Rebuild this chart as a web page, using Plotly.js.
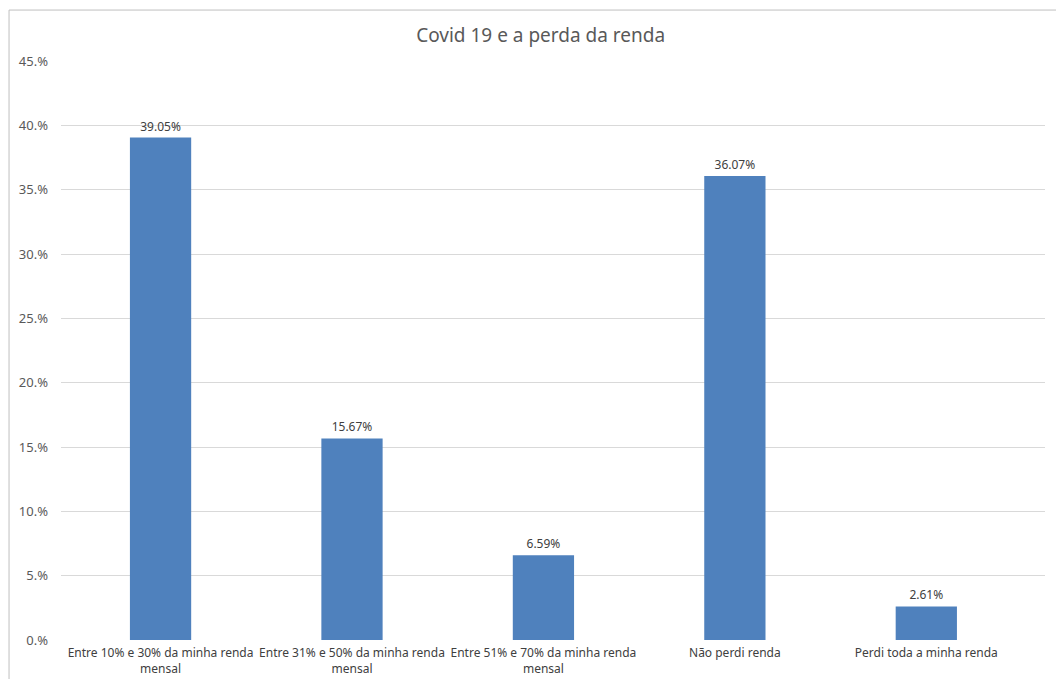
<!DOCTYPE html>
<html><head><meta charset="utf-8">
<script src="https://cdn.plot.ly/plotly-3.0.1.min.js"></script>
<style>html,body{margin:0;padding:0;background:#fff;}#chart{width:1056px;height:679px;}</style>
</head><body><div id="chart"></div>
<script>
const categories = ["Entre 10% e 30% da minha renda<br>mensal", "Entre 31% e 50% da minha renda<br>mensal", "Entre 51% e 70% da minha renda<br>mensal", "Não perdi renda", "Perdi toda a minha renda"];
const values = [39.05, 15.67, 6.59, 36.07, 2.61];
const valueLabels = ["39.05%", "15.67%", "6.59%", "36.07%", "2.61%"];
const yTickVals = [0, 5, 10, 15, 20, 25, 30, 35, 40, 45];
const yTickText = ["0.%", "5.%", "10.%", "15.%", "20.%", "25.%", "30.%", "35.%", "40.%", "45.%"];

const font = "Noto Sans, Open Sans, sans-serif";
const trace = {
  type: "bar",
  x: [0,1,2,3,4],
  y: values,
  text: valueLabels,
  textposition: "outside",
  textfont: {family: font, size: 12, color: "#404040"},
  cliponaxis: false,
  marker: {color: "#4F81BD"},
  width: 0.32,
  hoverinfo: "none"
};
const layout = {
  width: 1056, height: 679,
  margin: {l: 61, r: 11, t: 61, b: 39},
  paper_bgcolor: "#fff", plot_bgcolor: "#fff",
  title: {text: "Covid 19 e a perda da renda", x: 0.512, xanchor: "center", y: 0.948, yanchor: "middle",
          font: {family: font, size: 19, color: "#595959"}},
  showlegend: false,
  xaxis: {range: [-0.52, 4.62], tickvals: [0,1,2,3,4], ticktext: categories, showgrid: false, zeroline: false,
          showline: false, ticks: "", automargin: false, ticklabelstandoff: 4,
          tickfont: {family: font, size: 12, color: "#404040"}, fixedrange: true},
  yaxis: {range: [0, 45], tickvals: yTickVals, ticktext: yTickText, showgrid: true, gridcolor: "#d9d9d9", gridwidth: 1,
          zeroline: false, showline: false, ticks: "", automargin: false, ticklabelstandoff: 12,
          tickfont: {family: font, size: 13, color: "#595959"}, fixedrange: true},
  shapes: [{type: "rect", xref: "paper", yref: "paper", x0: -0.0528, x1: 1.05, y0: -0.2, y1: 1.088,
            line: {color: "#bfbfbf", width: 1}, fillcolor: "rgba(0,0,0,0)", layer: "below"}]
};
Plotly.newPlot("chart", [trace], layout, {displayModeBar: false, staticPlot: true});
</script></body></html>
